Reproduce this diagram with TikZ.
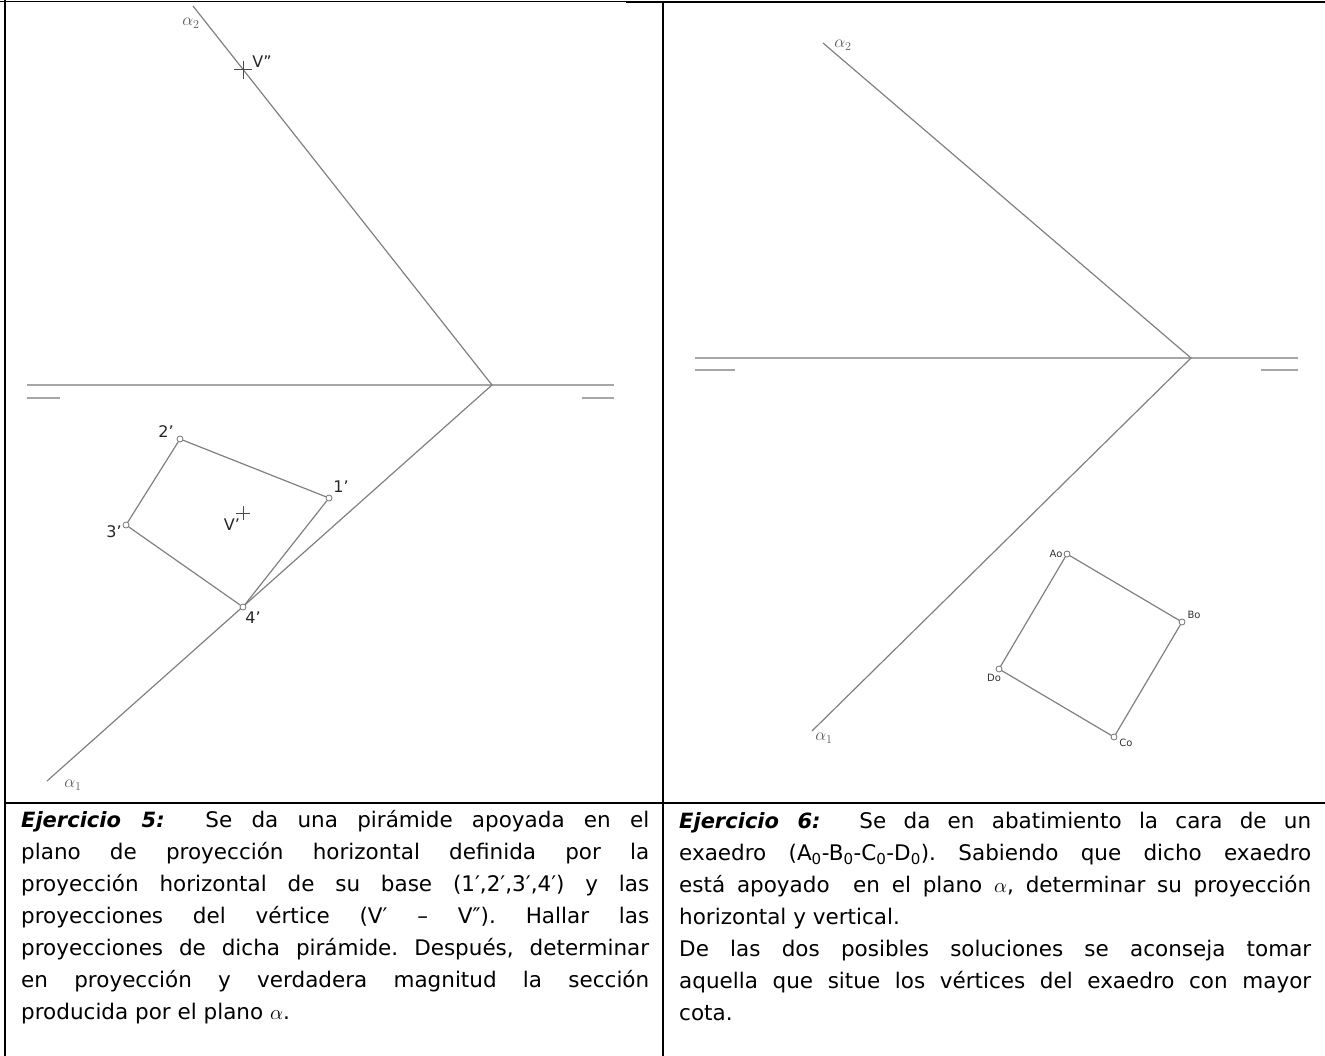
\documentclass[tikz,border=0pt]{standalone}
\usepackage{amsmath}
\usepackage{amssymb}
\usepackage{fontspec}
\setmainfont{DejaVu Sans}
\frenchspacing
\tikzset{
    marco/.style={line width=2pt,black},
    traza/.style={line width=1.2pt,black!50},
    linea/.style={line width=2pt,black!35},
    punto/.style={circle,draw=black!55,fill=white,line width=.8pt,inner sep=0pt,minimum size=6pt},
    cruz/.style={line width=1pt,black!70},
    etiq/.style={inner sep=0pt,text=black!85,font=\fontsize{16}{18}\selectfont},
    etiqb/.style={inner sep=0pt,text=black!80,font=\fontsize{10}{12}\selectfont},
    alfa/.style={inner sep=0pt,text=black!65,font=\fontsize{18}{20}\selectfont},
    enun/.style={anchor=north west,inner sep=0pt,align=justify,font=\fontsize{21.5}{32}\selectfont}
}
\begin{document}
\begin{tikzpicture}[x=1pt,y=-1pt]
    \useasboundingbox (0,0) rectangle (1325,1056);
    %marco
    \coordinate (m0) at (0,1.5);
    \coordinate (m1) at (626,1.5);
    \coordinate (m2) at (626,2);
    \coordinate (m3) at (1325,2);
    \coordinate (m4) at (5,0);
    \coordinate (m5) at (5,1056);
    \coordinate (m6) at (663,2);
    \coordinate (m7) at (663,1056);
    \coordinate (m8) at (5,803);
    \coordinate (m9) at (1325,803);
    \draw[line width=1pt] (m0) -- (m1);
    \draw[marco] (m2) -- (m3);
    \draw[marco] (m4) -- (m5);
    \draw[marco] (m6) -- (m7);
    \draw[marco] (m8) -- (m9);
    %ejercicio 5
    \coordinate (la) at (27,385);
    \coordinate (lb) at (614,385);
    \coordinate (lc) at (27,398);
    \coordinate (ld) at (60,398);
    \coordinate (le) at (582,398);
    \coordinate (lf) at (614,398);
    \coordinate (vert) at (492,385);
    \coordinate (atop) at (193,6);
    \coordinate (abot) at (47,781);
    \draw[linea] (la) -- (lb);
    \draw[linea] (lc) -- (ld);
    \draw[linea] (le) -- (lf);
    \draw[traza] (atop) -- (vert) -- (abot);
    \node[punto] (p1) at (329,498) {};
    \node[punto] (p2) at (180,439) {};
    \node[punto] (p3) at (126,525) {};
    \node[punto] (p4) at (243,607) {};
    \draw[traza] (p1) -- (p2) -- (p3) -- (p4) -- (p1);
    %vertice
    \foreach \n/\x/\y/\r in {vb/243/70/9,va/243/513/7}{
        \coordinate (\n w) at (\x-\r,\y);
        \coordinate (\n e) at (\x+\r,\y);
        \coordinate (\n n) at (\x,\y-\r);
        \coordinate (\n s) at (\x,\y+\r);
        \draw[cruz] (\n w) -- (\n e);
        \draw[cruz] (\n n) -- (\n s);
    }
    \node[etiq] (t1) at (341,487) {1'};
    \node[etiq] (t2) at (166,432) {2'};
    \node[etiq] (t3) at (114,532) {3'};
    \node[etiq] (t4) at (253,618) {4'};
    \node[etiq] (tv) at (232,525) {V'};
    \node[etiq] (tw) at (262,62) {V''};
    \node[alfa] (ta2) at (191,23) {$\alpha_{2}$};
    \node[alfa] (ta1) at (73,785) {$\alpha_{1}$};
    %ejercicio 6
    \coordinate (ra) at (695,358);
    \coordinate (rb) at (1298,358);
    \coordinate (rc) at (695,370);
    \coordinate (rd) at (735,370);
    \coordinate (re) at (1261,370);
    \coordinate (rf) at (1298,370);
    \coordinate (wert) at (1191,358);
    \coordinate (btop) at (823,43);
    \coordinate (bbot) at (812,731);
    \draw[linea] (ra) -- (rb);
    \draw[linea] (rc) -- (rd);
    \draw[linea] (re) -- (rf);
    \draw[traza] (btop) -- (wert) -- (bbot);
    \node[punto] (a0) at (1067,554) {};
    \node[punto] (b0) at (1182,622) {};
    \node[punto] (c0) at (1114,737) {};
    \node[punto] (d0) at (999,669) {};
    \draw[traza] (a0) -- (b0) -- (c0) -- (d0) -- (a0);
    \node[etiqb] (ta) at (1056,554) {Ao};
    \node[etiqb] (tb) at (1194,615) {Bo};
    \node[etiqb] (tc) at (1126,743) {Co};
    \node[etiqb] (td) at (994,678) {Do};
    \node[alfa] (tb2) at (843,45) {$\alpha_{2}$};
    \node[alfa] (tb1) at (824,738) {$\alpha_{1}$};
    %enunciados
    \node[enun,text width=628pt] (enun5) at (21,810) {%
        {\fontsize{21}{32}\selectfont\bfseries\itshape Ejercicio 5:}\quad\ Se da una pirámide apoyada en el\linebreak
        plano de proyección horizontal definida por la\linebreak
        proyección horizontal de su base (1′,2′,3′,4′) y las\linebreak
        proyecciones del vértice (V′ – V″). Hallar las\linebreak
        proyecciones de dicha pirámide. Después, determinar\linebreak
        en proyección y verdadera magnitud la sección\linebreak
        producida por el plano $\alpha$.};
    \node[enun,text width=632pt] (enun6) at (679,812) {%
        {\fontsize{21}{32}\selectfont\bfseries\itshape Ejercicio 6:}\quad\ Se da en abatimiento la cara de un\linebreak
        exaedro (A\textsubscript{0}-B\textsubscript{0}-C\textsubscript{0}-D\textsubscript{0}). Sabiendo que dicho exaedro\linebreak
        está apoyado\ \ en el plano $\alpha$, determinar su proyección\linebreak
        horizontal y vertical.\\
        De las dos posibles soluciones se aconseja tomar\linebreak
        aquella que situe los vértices del exaedro con mayor\linebreak
        cota.};
\end{tikzpicture}
\end{document}
